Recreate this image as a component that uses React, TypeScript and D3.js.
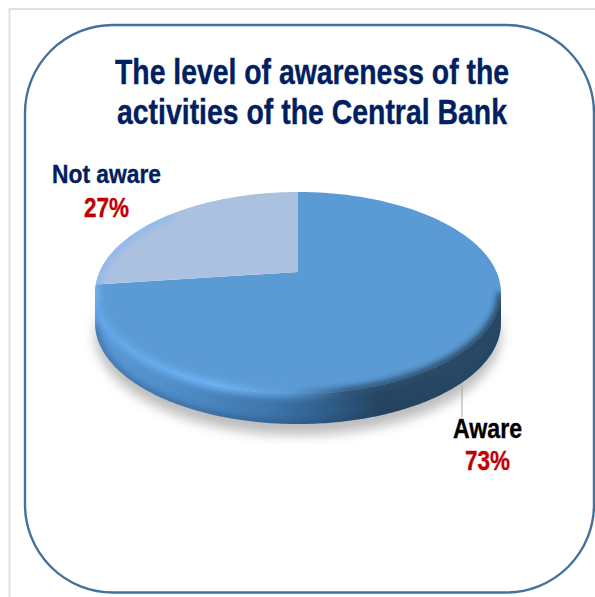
import React from "react";
import * as d3 from "d3";

// Survey shares, in percent
const categories = ["Aware", "Not aware"];
const shares = [73, 27];
const titleLines = ["The level of awareness of the", "activities of the Central Bank"];

const WIDTH = 595;
const HEIGHT = 597;

// Disc placement on the page
const cx = 298;
const discTop = 192;
const discBottom = 394;
const hub = 272;
const halfWidth = 203;
const depth = 30;

// Perspective that sends the unit circle onto the tilted disc, with its centre at the hub
const c = (discTop + discBottom - 2 * hub) / (discTop - discBottom);
const a = hub - discTop + discTop * c;
const r = halfWidth * Math.sqrt(1 - c * c);

const project = (angle: number): [number, number] => {
  const u = Math.sin(angle);
  const v = -Math.cos(angle);
  const w = 1 + c * v;
  return [cx + (r * u) / w, (a * v + hub) / w];
};

const pieLayout = d3
  .pie<number>()
  .sort(null)
  .startAngle(0)
  .endAngle(2 * Math.PI);
const slices = pieLayout(shares);

const sampleAngles = (from: number, to: number, n = 180) =>
  d3.range(n + 1).map((i) => from + ((to - from) * i) / n);

const line = d3.line<[number, number]>();

const slicePath = (from: number, to: number) =>
  `M${cx},${hub}L` + (line(sampleAngles(from, to).map((t) => project(t))) as string).slice(1) + "Z";

const rimPath = (line(sampleAngles(0, 2 * Math.PI).map((t) => project(t))) as string) + "Z";

// The visible front of the disc runs between the two sideways extremes
const sideways = Math.asin(-c);
const frontTop = sampleAngles(Math.PI / 2 + sideways, (3 * Math.PI) / 2 - sideways).map((t) => project(t));
const frontBottom = frontTop.map(([x, y]) => [x, y + depth] as [number, number]).reverse();
const sidePath = (line([...frontTop, ...frontBottom]) as string) + "Z";
const frontEdge = line(frontTop) as string;
const backEdge = line(frontBottom) as string;
const leftShoulder = line(
  sampleAngles((3 * Math.PI) / 2 - 0.3, (3 * Math.PI) / 2 + 0.75).map((t) => project(t))
) as string;

const sideStops: [number, string][] = [
  [0, "#5a9ad6"],
  [0.2, "#4f8dc8"],
  [0.42, "#4077ad"],
  [0.56, "#30608f"],
  [0.7, "#264560"],
  [1, "#294a68"],
];
const bevelStops: [number, string][] = [
  [0, "#62a6e8"],
  [0.3, "#70b6fa"],
  [0.48, "#5b9bd5"],
  [0.62, "#2f5578"],
  [1, "#264560"],
];

const navy = "#002060";
const red = "#c00000";
const ink = 0.35;

export default function App() {
  return (
    <svg
      width={WIDTH}
      height={HEIGHT}
      viewBox={`0 0 ${WIDTH} ${HEIGHT}`}
      style={{ position: "absolute", left: 0, top: 0, fontFamily: "'Liberation Sans', Arial, sans-serif" }}
    >
      <defs>
        <linearGradient id="side" gradientUnits="userSpaceOnUse" x1={cx - halfWidth} x2={cx + halfWidth} y1={0} y2={0}>
          {sideStops.map(([o, col]) => (
            <stop key={o} offset={o} stopColor={col} />
          ))}
        </linearGradient>
        <linearGradient id="bevel" gradientUnits="userSpaceOnUse" x1={cx - halfWidth} x2={cx + halfWidth} y1={0} y2={0}>
          {bevelStops.map(([o, col]) => (
            <stop key={o} offset={o} stopColor={col} />
          ))}
        </linearGradient>
        <clipPath id="disc">
          <path d={rimPath} />
          <path d={sidePath} />
        </clipPath>
        <clipPath id="face">
          <path d={rimPath} />
        </clipPath>
        <filter id="soft" x="-20%" y="-30%" width="140%" height="160%">
          <feGaussianBlur stdDeviation="3" />
        </filter>
        <filter id="softShadow" x="-20%" y="-30%" width="140%" height="160%">
          <feGaussianBlur stdDeviation="6" />
        </filter>
      </defs>

      <rect width={WIDTH} height={HEIGHT} fill="#ffffff" />
      <path d={`M9.5,${HEIGHT}V9H${WIDTH}`} fill="none" stroke="#e0e0e0" strokeWidth={2} />
      <rect x={25} y={25} width={569} height={567.5} rx={88} ry={88} fill="#ffffff" stroke="#41719c" strokeWidth={2.4} />

      <g textAnchor="middle" fontWeight="bold" fill={navy} stroke={navy} strokeWidth={ink} fontSize={34.5}>
        <text x={312} y={83.5} textLength={394} lengthAdjust="spacingAndGlyphs">{titleLines[0]}</text>
        <text x={312} y={123.5} textLength={390} lengthAdjust="spacingAndGlyphs">{titleLines[1]}</text>
      </g>

      {/* Cast shadow under the disc */}
      <path d={sidePath} transform="translate(0,11)" fill="#000000" opacity={0.26} filter="url(#softShadow)" />

      {/* Disc wall */}
      <path d={sidePath} fill="url(#side)" />
      <g clipPath="url(#disc)">
        <path d={backEdge} fill="none" stroke="#1f3f60" strokeWidth={6} opacity={0.45} filter="url(#soft)" />
      </g>

      {/* Disc face, one wedge per category */}
      <path d={slicePath(slices[0].startAngle, slices[0].endAngle)} fill="#5b9bd5" />
      <path d={slicePath(slices[1].startAngle, slices[1].endAngle)} fill="#abc1e0" />

      {/* Rounded edge between face and wall */}
      <g clipPath="url(#disc)">
        <path d={frontEdge} fill="none" stroke="url(#bevel)" strokeWidth={8} filter="url(#soft)" />
      </g>
      <g clipPath="url(#face)">
        <path d={leftShoulder} fill="none" stroke="#7fb5f2" strokeWidth={9} opacity={0.65} filter="url(#soft)" />
      </g>

      {/* Leader for the larger slice */}
      <path d="M462,386V417" stroke="#a6a6a6" strokeWidth={1} fill="none" />

      <g textAnchor="middle" fontWeight="bold" stroke="currentColor" strokeWidth={ink}>
        <text x={106.5} y={183} fontSize={26} color={navy} fill={navy} textLength={109} lengthAdjust="spacingAndGlyphs">{categories[1]}</text>
        <text x={106.5} y={216.5} fontSize={28} color={red} fill={red} textLength={45} lengthAdjust="spacingAndGlyphs">{`${shares[1]}%`}</text>
        <text x={487.5} y={438} fontSize={27} color="#000000" fill="#000000" textLength={69} lengthAdjust="spacingAndGlyphs">{categories[0]}</text>
        <text x={487.5} y={470} fontSize={28} color={red} fill={red} textLength={45} lengthAdjust="spacingAndGlyphs">{`${shares[0]}%`}</text>
      </g>
    </svg>
  );
}
